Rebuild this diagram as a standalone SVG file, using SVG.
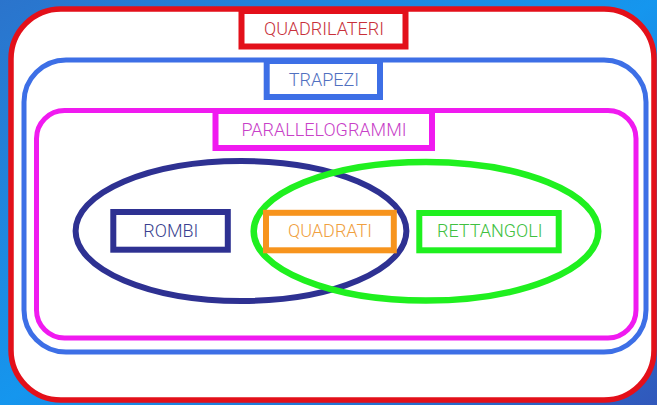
<svg xmlns="http://www.w3.org/2000/svg" width="657" height="405" viewBox="0 0 657 405">
<defs>
<linearGradient id="bg" x1="0" y1="0" x2="1" y2="1">
<stop offset="0" stop-color="#2b74cc"/>
<stop offset="0.5" stop-color="#1596ee"/>
<stop offset="1" stop-color="#3158bb"/>
</linearGradient>
<style>
.f{fill:none;stroke-width:5}
.b{fill:#fff;stroke-width:6}
.t{font-family:Roboto,"Liberation Sans",sans-serif;font-weight:300;font-size:18px;text-anchor:middle}
</style>
</defs>
<rect width="657" height="405" fill="url(#bg)"/>
<g id="quadrilateri">
<rect x="11" y="9" width="643" height="391" rx="50" fill="#fff" stroke="#e3101a" stroke-width="5.5"/>
<rect class="b" x="241.5" y="11" width="164" height="35.5" stroke="#e3101a"/>
<text class="t" x="324" y="35" fill="#c8303a">QUADRILATERI</text>
</g>
<g id="trapezi">
<rect class="f" x="24" y="60" width="622" height="292" rx="42" stroke="#3d6fe6"/>
<rect class="b" x="266.7" y="61" width="113.3" height="36" stroke="#3d6fe6"/>
<text class="t" x="324" y="86" fill="#5070c0">TRAPEZI</text>
</g>
<g id="parallelogrammi">
<rect class="f" x="36.5" y="110.5" width="599.5" height="227.5" rx="28" stroke="#f01af0"/>
<rect class="b" x="215.5" y="111" width="216.5" height="37" stroke="#f01af0"/>
<text class="t" x="324" y="136" fill="#c840c8">PARALLELOGRAMMI</text>
</g>
<g id="connectors"></g>
<g id="ellipse-rombi">
<ellipse cx="241" cy="231" rx="165.4" ry="70" fill="none" stroke="#2e3192" stroke-width="6"/>
</g>
<g id="ellipse-rettangoli">
<ellipse cx="426" cy="231.3" rx="172.3" ry="69.3" fill="none" stroke="#1ff01f" stroke-width="6.5"/>
</g>
<g id="rombi">
<rect class="b" x="113.3" y="212" width="114.5" height="37.7" stroke="#2e3192"/>
<text class="t" x="170.8" y="236.5" fill="#3a3f8f">ROMBI</text>
</g>
<g id="quadrati">
<rect class="b" x="266" y="212.8" width="127.8" height="37.5" stroke="#f7941d"/>
<text class="t" x="330" y="236.5" fill="#f0a040">QUADRATI</text>
</g>
<g id="rettangoli">
<rect class="b" x="419.3" y="213" width="139.4" height="37.3" stroke="#1ff01f"/>
<text class="t" x="489.8" y="236.5" fill="#40c040">RETTANGOLI</text>
</g>
</svg>
